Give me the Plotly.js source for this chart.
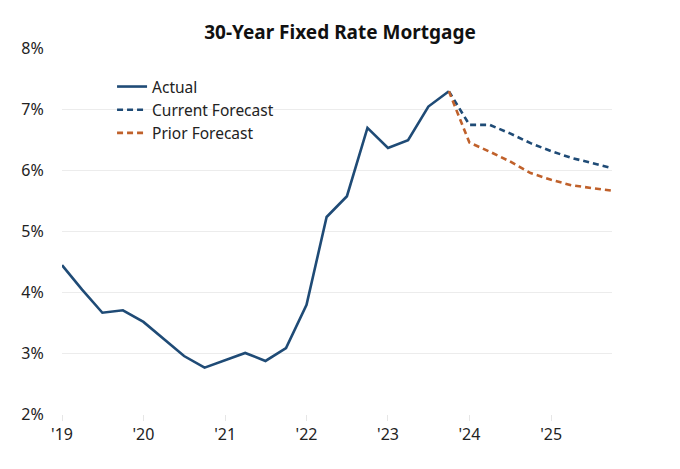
<!DOCTYPE html>
<html>
<head>
<meta charset="utf-8">
<script src="https://cdn.plot.ly/plotly-3.0.1.min.js"></script>
<style>html,body{margin:0;padding:0;background:#fff}#chart{width:680px;height:469px}</style>
</head>
<body>
<div id="chart"></div>
<script>
const actualDates = ['2019-01-01','2019-04-01','2019-07-01','2019-10-01','2020-01-01','2020-04-01','2020-07-01','2020-10-01','2021-01-01','2021-04-01','2021-07-01','2021-10-01','2022-01-01','2022-04-01','2022-07-01','2022-10-01','2023-01-01','2023-04-01','2023-07-01','2023-10-01'];
const actualValues = [4.44,4.04,3.66,3.70,3.51,3.23,2.95,2.76,2.88,3.00,2.87,3.08,3.79,5.23,5.57,6.69,6.36,6.49,7.04,7.29];
const forecastDates = ['2023-10-01','2024-01-01','2024-04-01','2024-07-01','2024-10-01','2025-01-01','2025-04-01','2025-07-01','2025-10-01'];
const currentForecast = [7.29,6.74,6.74,6.60,6.44,6.31,6.20,6.11,6.03];
const priorForecast = [7.29,6.45,6.30,6.14,5.95,5.84,5.75,5.70,5.66];
const yearTicks = ['2019-01-01','2020-01-01','2021-01-01','2022-01-01','2023-01-01','2024-01-01','2025-01-01'];
const yearLabels = ["'19","'20","'21","'22","'23","'24","'25"];
const yTicks = [2,3,4,5,6,7,8];
const yLabels = ['2%','3%','4%','5%','6%','7%','8%'];

const navy = '#1f4b76';
const rust = '#c0612b';
const traces = [
  {x: actualDates, y: actualValues, name: 'Actual', mode: 'lines', line: {color: navy, width: 2.6}},
  {x: forecastDates, y: currentForecast, name: 'Current Forecast', mode: 'lines', line: {color: navy, width: 2.6, dash: '6px,4px'}},
  {x: forecastDates, y: priorForecast, name: 'Prior Forecast', mode: 'lines', line: {color: rust, width: 2.6, dash: '6px,4px'}}
];
const font = '"Source Sans Pro","Noto Sans",sans-serif';
const layout = {
  width: 680, height: 469,
  margin: {l: 62, r: 68, t: 48, b: 55},
  paper_bgcolor: '#fff', plot_bgcolor: '#fff',
  font: {family: font, color: '#222', size: 15},
  title: {text: '<b>30-Year Fixed Rate Mortgage</b>', font: {family: font, size: 19, color: '#111'}, x: 0.5, xanchor: 'center', y: 0.93, yanchor: 'middle'},
  showlegend: true,
  legend: {x: 0.091, y: 0.94, xanchor: 'left', yanchor: 'top', bgcolor: 'rgba(0,0,0,0)', font: {size: 15.5, color: '#222'}, tracegroupgap: 0, itemwidth: 30},
  xaxis: {type: 'date', range: ['2019-01-01','2025-10-01'], tickvals: yearTicks, ticktext: yearLabels,
    showgrid: false, zeroline: false, showline: false, ticks: 'outside', ticklen: 6, tickcolor: '#e6e6e6', tickwidth: 1,
    tickfont: {size: 16, color: '#222'}},
  yaxis: {range: [2, 8], tickvals: yTicks, ticktext: yLabels, showgrid: true, gridcolor: '#ececec', gridwidth: 1,
    zeroline: false, showline: false, ticks: 'outside', ticklen: 14, tickcolor: 'rgba(0,0,0,0)',
    tickfont: {size: 16, color: '#222'}}
};
Plotly.newPlot('chart', traces, layout, {displayModeBar: false, staticPlot: true});
</script>
</body>
</html>
